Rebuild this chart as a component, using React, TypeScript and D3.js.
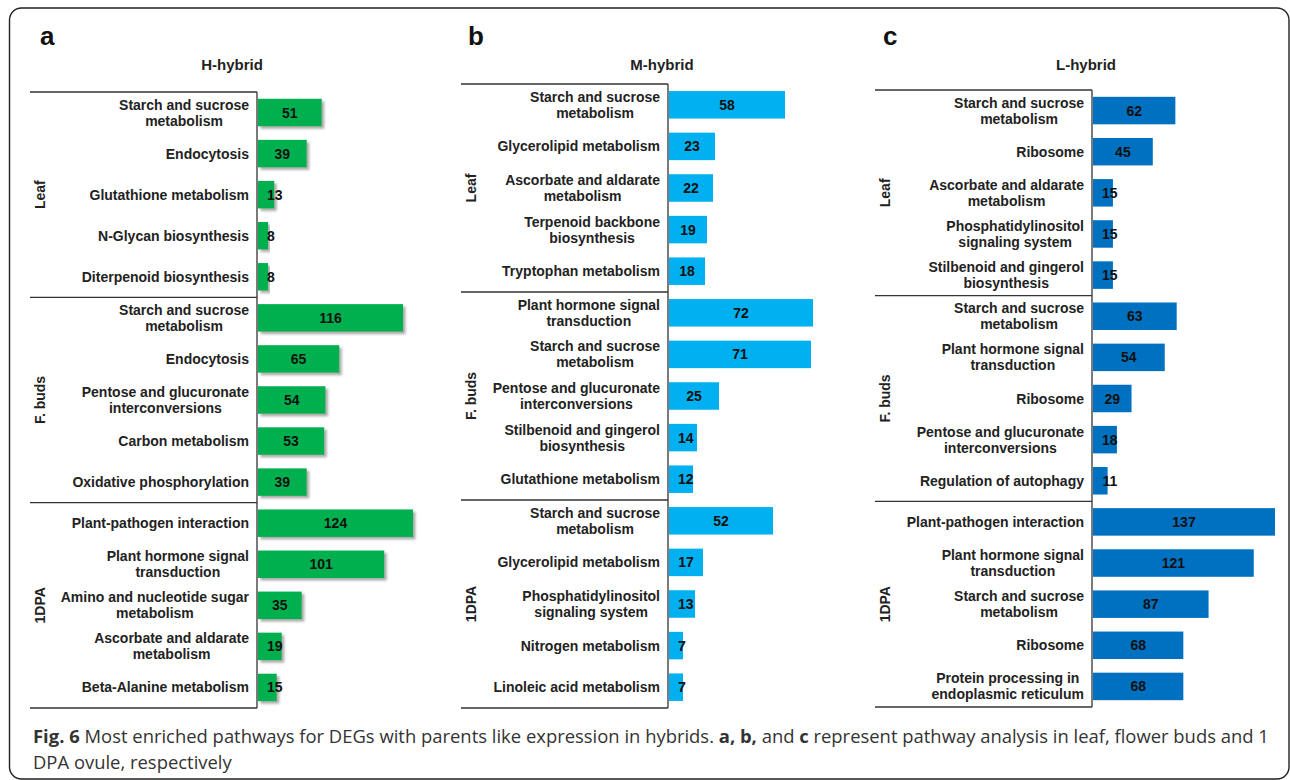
import React, { useEffect, useRef } from "react";
import * as d3 from "d3";

// ---- data ----
const groups = ["Leaf", "F. buds", "1DPA"];

const hLabels = [
  "Starch and sucrose\nmetabolism", "Endocytosis", "Glutathione metabolism", "N-Glycan biosynthesis", "Diterpenoid biosynthesis",
  "Starch and sucrose\nmetabolism", "Endocytosis", "Pentose and glucuronate\ninterconversions", "Carbon metabolism", "Oxidative phosphorylation",
  "Plant-pathogen interaction", "Plant hormone signal\ntransduction", "Amino and nucleotide sugar\nmetabolism", "Ascorbate and aldarate\nmetabolism", "Beta-Alanine metabolism",
];
const hValues = [51, 39, 13, 8, 8, 116, 65, 54, 53, 39, 124, 101, 35, 19, 15];

const mLabels = [
  "Starch and sucrose\nmetabolism", "Glycerolipid metabolism", "Ascorbate and aldarate\nmetabolism", "Terpenoid backbone\nbiosynthesis", "Tryptophan metabolism",
  "Plant hormone signal\ntransduction", "Starch and sucrose\nmetabolism", "Pentose and glucuronate\ninterconversions", "Stilbenoid and gingerol\nbiosynthesis", "Glutathione metabolism",
  "Starch and sucrose\nmetabolism", "Glycerolipid metabolism", "Phosphatidylinositol\nsignaling system", "Nitrogen metabolism", "Linoleic acid metabolism",
];
const mValues = [58, 23, 22, 19, 18, 72, 71, 25, 14, 12, 52, 17, 13, 7, 7];

const lLabels = [
  "Starch and sucrose\nmetabolism", "Ribosome", "Ascorbate and aldarate\nmetabolism", "Phosphatidylinositol\nsignaling system", "Stilbenoid and gingerol\nbiosynthesis",
  "Starch and sucrose\nmetabolism", "Plant hormone signal\ntransduction", "Ribosome", "Pentose and glucuronate\ninterconversions", "Regulation of autophagy",
  "Plant-pathogen interaction", "Plant hormone signal\ntransduction", "Starch and sucrose\nmetabolism", "Ribosome", "Protein processing in\nendoplasmic reticulum",
];
const lValues = [62, 45, 15, 15, 15, 63, 54, 29, 18, 11, 137, 121, 87, 68, 68];

const panelLetters = ["a", "b", "c"];
const panelTitles = ["H-hybrid", "M-hybrid", "L-hybrid"];

// ---- layout ----
const panels = [
  { letter: panelLetters[0], title: panelTitles[0], labels: hLabels, values: hValues, color: "#00B050", shadow: true,
    left: 30, axisX: 257, top: 92, bottom: 708, titleX: 232, letterX: 40, maxPx: 155 },
  { letter: panelLetters[1], title: panelTitles[1], labels: mLabels, values: mValues, color: "#00B0F0", shadow: false,
    left: 461, axisX: 668, top: 84, bottom: 708, titleX: 662, letterX: 468, maxPx: 144 },
  { letter: panelLetters[2], title: panelTitles[2], labels: lLabels, values: lValues, color: "#0070C0", shadow: false,
    left: 875, axisX: 1092, top: 90, bottom: 707, titleX: 1086, letterX: 883, maxPx: 182 },
];

const W = 1290;
const H = 780;
const FONT = "'Liberation Sans', Arial, sans-serif";

export default function App() {
  const ref = useRef<SVGSVGElement | null>(null);

  useEffect(() => {
    const svg = d3.select(ref.current);
    svg.selectAll("*").remove();

    const defs = svg.append("defs");
    const f = defs.append("filter").attr("id", "barShadow").attr("x", "-10%").attr("y", "-20%").attr("width", "130%").attr("height", "160%");
    f.append("feDropShadow").attr("dx", 2.5).attr("dy", 2.5).attr("stdDeviation", 1.2)
      .attr("flood-color", "#666").attr("flood-opacity", 0.55);

    // outer rounded frame
    svg.append("rect").attr("x", 9.5).attr("y", 8).attr("width", 1279.5).attr("height", 771)
      .attr("rx", 12).attr("ry", 12).attr("fill", "none").attr("stroke", "#222").attr("stroke-width", 1.4);

    panels.forEach((p) => {
      const g = svg.append("g");
      const n = p.values.length;
      const idx = d3.range(n);
      const y = d3.scaleBand<number>().domain(idx).range([p.top, p.bottom]).paddingInner(0).paddingOuter(0);
      const max = d3.max(p.values) as number;
      const x = d3.scaleLinear().domain([0, max]).range([p.axisX + 1, p.axisX + 1 + p.maxPx]);
      const bh = 27.5;

      // panel letter and title
      g.append("text").attr("x", p.letterX).attr("y", 45).attr("font-family", FONT).attr("font-weight", 700)
        .attr("font-size", 26).attr("fill", "#111").text(p.letter);
      g.append("text").attr("x", p.titleX).attr("y", 70).attr("text-anchor", "middle").attr("font-family", FONT)
        .attr("font-weight", 700).attr("font-size", 15).attr("fill", "#222").text(p.title);

      // bars
      g.selectAll("rect.bar").data(idx).join("rect").attr("class", "bar")
        .attr("x", x(0))
        .attr("y", (i) => (y(i) as number) + (y.bandwidth() - bh) / 2)
        .attr("width", (i) => x(p.values[i]) - x(0))
        .attr("height", bh)
        .attr("fill", p.color)
        .attr("filter", p.shadow ? "url(#barShadow)" : null);

      // value labels
      g.selectAll("text.val").data(idx).join("text").attr("class", "val")
        .attr("x", (i) => {
          const v = p.values[i];
          const tw = String(v).length * 7.8;
          const c = (x(0) + x(v)) / 2;
          return Math.max(c, x(0) + 9 + tw / 2);
        })
        .attr("y", (i) => (y(i) as number) + y.bandwidth() / 2 + 5)
        .attr("text-anchor", "middle").attr("font-family", FONT).attr("font-weight", 700)
        .attr("font-size", 14).attr("fill", "#111").text((i) => String(p.values[i]));

      // category labels: block right-aligned, lines centred inside block
      idx.forEach((i) => {
        const lines = p.labels[i].split("\n");
        const cy = (y(i) as number) + y.bandwidth() / 2;
        const lh = 16;
        const right = p.axisX - 8;
        const t = g.append("text").attr("font-family", FONT).attr("font-weight", 700).attr("font-size", 14).attr("fill", "#222");
        const spans = lines.map((ln, k) =>
          t.append("tspan").attr("y", cy + 5 + (k - (lines.length - 1) / 2) * lh).attr("x", right).text(ln)
        );
        const widths = spans.map((s) => (s.node() as SVGTSpanElement).getComputedTextLength());
        const bw = Math.max(...widths);
        spans.forEach((s) => s.attr("x", right - bw / 2).attr("text-anchor", "middle"));
      });

      // bracket lines
      const line = g.append("g").attr("stroke", "#333").attr("stroke-width", 1.3).attr("fill", "none");
      line.append("line").attr("x1", p.axisX).attr("x2", p.axisX).attr("y1", p.top).attr("y2", p.bottom);
      [0, 5, 10, 15].forEach((k) => {
        const yy = k === 15 ? p.bottom : (y(k) as number);
        line.append("line").attr("x1", p.left).attr("x2", p.axisX).attr("y1", yy).attr("y2", yy);
      });

      // group labels (rotated)
      groups.forEach((gname, gi) => {
        const y0 = y(gi * 5) as number;
        const y1 = gi === 2 ? p.bottom : (y(gi * 5 + 5) as number);
        const cy = (y0 + y1) / 2;
        g.append("text").attr("transform", `translate(${p.left + 15},${cy}) rotate(-90)`)
          .attr("text-anchor", "middle").attr("font-family", FONT).attr("font-weight", 700)
          .attr("font-size", 14).attr("fill", "#222").text(gname);
      });
    });

    // caption
    const cap = svg.append("g").attr("font-family", "'Open Sans', sans-serif").attr("font-size", 18).attr("fill", "#333");
    const t1 = cap.append("text").attr("x", 0).attr("y", 0);
    const parts: [string, boolean][] = [
      ["Fig. 6", true],
      [" Most enriched pathways for DEGs with parents like expression in hybrids. ", false],
      ["a, b,", true],
      [" and ", false],
      ["c", true],
      [" represent pathway analysis in leaf, flower buds and 1", false],
    ];
    parts.forEach(([s, b]) => t1.append("tspan").attr("font-weight", b ? 700 : 400).attr("xml:space", "preserve").text(s));
    t1.attr("style", "white-space: pre");
    const natural = (t1.node() as SVGTextElement).getComputedTextLength();
    const k = 1237 / natural;
    t1.attr("transform", `translate(33,743) scale(${k},1)`);
    cap.append("text").attr("transform", `translate(33,769) scale(${k},1)`).text("DPA ovule, respectively");
  }, []);

  return (
    <svg ref={ref} width={W} height={H} style={{ position: "absolute", left: 0, top: 0, background: "#fff" }} />
  );
}
